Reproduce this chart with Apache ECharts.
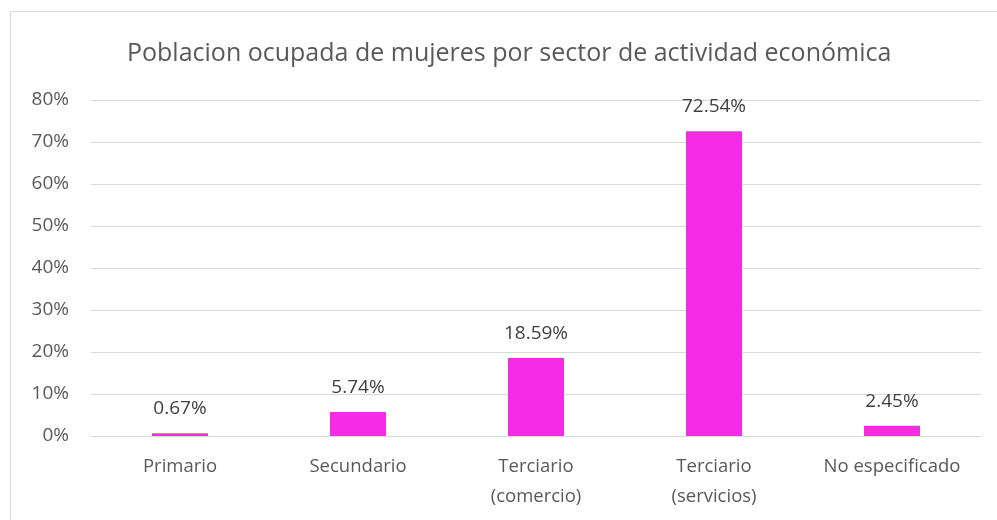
<!DOCTYPE html>
<html>
<head>
<meta charset="utf-8">
<script src="https://cdn.jsdelivr.net/npm/echarts@6/dist/echarts.min.js"></script>
<style>
  html, body { margin: 0; padding: 0; background: #fff; }
  #chart { width: 997px; height: 520px; }
</style>
</head>
<body>
<div id="chart"></div>
<script>
var categories = ["Primario", "Secundario", "Terciario\n(comercio)", "Terciario\n(servicios)", "No especificado"];
var shares = [0.67, 5.74, 18.59, 72.54, 2.45];

var chart = echarts.init(document.getElementById("chart"));
var font = "'Open Sans', sans-serif";

var option = {
    backgroundColor: "#fff",
    animation: false,
    title: {
        text: "Poblacion ocupada de mujeres por sector de actividad económica",
        left: 122,
        top: 36,
        textStyle: {
            color: "#595959",
            fontFamily: font,
            fontWeight: "normal",
            fontSize: 25
        }
    },
    graphic: [{
        type: "rect",
        shape: { x: 10.5, y: 11.5, width: 1000, height: 600 },
        style: { fill: "none", stroke: "#d9d9d9", lineWidth: 1 },
        silent: true
    }],
    grid: {
        left: 91,
        right: 16,
        top: 100,
        bottom: 84
    },
    xAxis: {
        type: "category",
        data: categories,
        axisLine: { lineStyle: { color: "#d9d9d9", width: 1 } },
        axisTick: { show: false },
        axisLabel: {
            color: "#595959",
            fontFamily: font,
            fontSize: 18.5,
            lineHeight: 30,
            margin: 16
        }
    },
    yAxis: {
        type: "value",
        min: 0,
        max: 80,
        interval: 10,
        axisLine: { show: false },
        axisTick: { show: false },
        axisLabel: {
            formatter: "{value}%",
            color: "#595959",
            fontFamily: font,
            fontSize: 19,
            margin: 22
        },
        splitLine: { lineStyle: { color: "#d9d9d9", width: 1 } }
    },
    series: [{
        type: "bar",
        data: shares,
        barWidth: 56,
        itemStyle: { color: "#f42ce6" },
        label: {
            show: true,
            position: "top",
            distance: 15,
            formatter: function (p) { return p.value.toFixed(2) + "%"; },
            color: "#404040",
            fontFamily: font,
            fontSize: 19
        }
    }]
};

chart.setOption(option);
</script>
</body>
</html>
